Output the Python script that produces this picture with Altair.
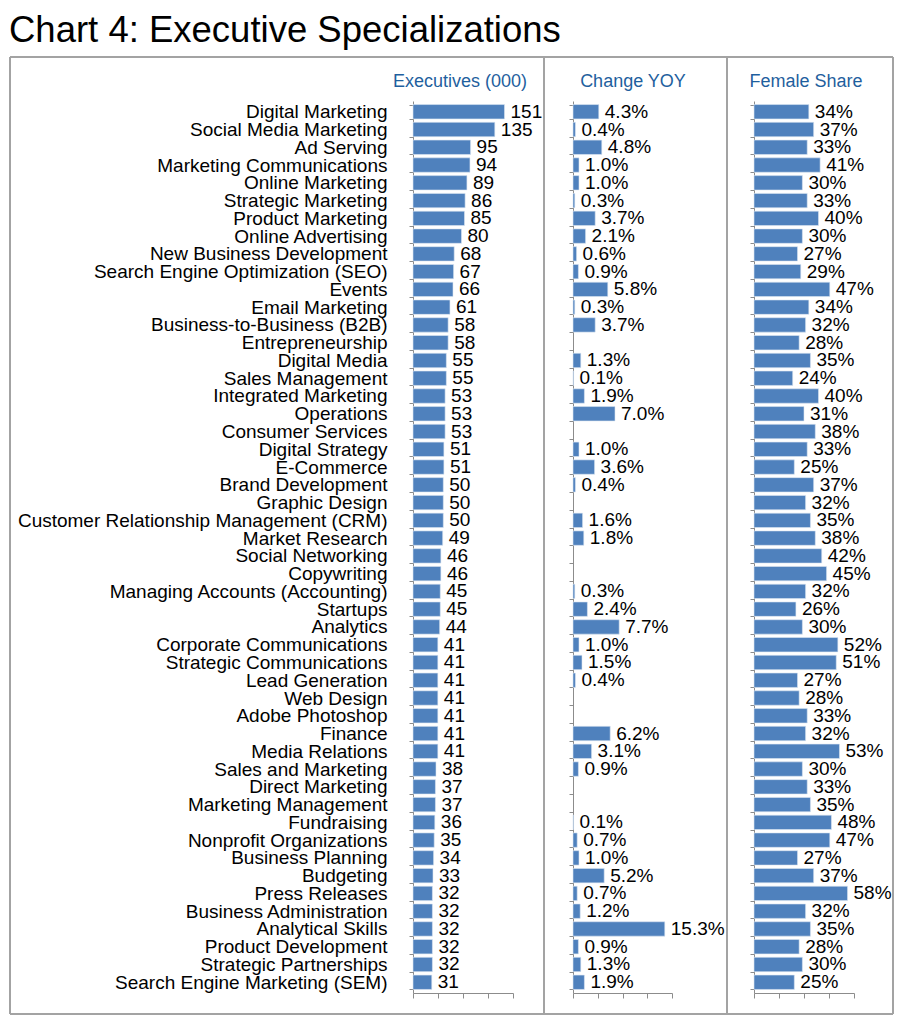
import altair as alt
import pandas as pd

names = [
    "Digital Marketing", "Social Media Marketing", "Ad Serving", "Marketing Communications",
    "Online Marketing", "Strategic Marketing", "Product Marketing", "Online Advertising",
    "New Business Development", "Search Engine Optimization (SEO)", "Events", "Email Marketing",
    "Business-to-Business (B2B)", "Entrepreneurship", "Digital Media", "Sales Management",
    "Integrated Marketing", "Operations", "Consumer Services", "Digital Strategy", "E-Commerce",
    "Brand Development", "Graphic Design", "Customer Relationship Management (CRM)",
    "Market Research", "Social Networking", "Copywriting", "Managing Accounts (Accounting)",
    "Startups", "Analytics", "Corporate Communications", "Strategic Communications",
    "Lead Generation", "Web Design", "Adobe Photoshop", "Finance", "Media Relations",
    "Sales and Marketing", "Direct Marketing", "Marketing Management", "Fundraising",
    "Nonprofit Organizations", "Business Planning", "Budgeting", "Press Releases",
    "Business Administration", "Analytical Skills", "Product Development",
    "Strategic Partnerships", "Search Engine Marketing (SEM)",
]
executives = [151, 135, 95, 94, 89, 86, 85, 80, 68, 67, 66, 61, 58, 58, 55, 55, 53, 53, 53, 51,
              51, 50, 50, 50, 49, 46, 46, 45, 45, 44, 41, 41, 41, 41, 41, 41, 41, 38, 37, 37,
              36, 35, 34, 33, 32, 32, 32, 32, 32, 31]
change_yoy = [4.3, 0.4, 4.8, 1.0, 1.0, 0.3, 3.7, 2.1, 0.6, 0.9, 5.8, 0.3, 3.7, None, 1.3, 0.1,
              1.9, 7.0, None, 1.0, 3.6, 0.4, None, 1.6, 1.8, None, None, 0.3, 2.4, 7.7, 1.0,
              1.5, 0.4, None, None, 6.2, 3.1, 0.9, None, None, 0.1, 0.7, 1.0, 5.2, 0.7, 1.2,
              15.3, 0.9, 1.3, 1.9]
female_share = [34, 37, 33, 41, 30, 33, 40, 30, 27, 29, 47, 34, 32, 28, 35, 24, 40, 31, 38, 33,
                25, 37, 32, 35, 38, 42, 45, 32, 26, 30, 52, 51, 27, 28, 33, 32, 53, 30, 33, 35,
                48, 47, 27, 37, 58, 32, 35, 28, 30, 25]
headers = ["Executives (000)", "Change YOY", "Female Share"]
title_text = "Chart 4: Executive Specializations"

df = pd.DataFrame({"name": names, "execs": executives, "chg": change_yoy, "fem": female_share})

BAR = "#4F81BD"
GREY = "#8c8c8c"
FRAME = "#a3a3a3"
HEAD = "#1f5f9e"
FONT = "Liberation Sans"
H = 892


def y_enc(show_labels):
    return alt.Y(
        "name:N",
        scale=alt.Scale(domain=names, paddingInner=0.19, paddingOuter=0.2),
        axis=alt.Axis(title=None, labels=show_labels, labelFontSize=19, labelFont=FONT,
                      labelColor="black", labelPadding=22, labelLimit=500, tickSize=4,
                      tickBand="extent", tickColor=GREY, domainColor=GREY, grid=False),
    )


def x_axis(vals):
    return alt.Axis(title=None, labels=False, values=vals, tickSize=5, tickColor=GREY,
                    domainColor=GREY, grid=False)


one = pd.DataFrame({"k": [0]})


def header(text, xc):
    return alt.Chart(one).mark_text(align="center", baseline="alphabetic", fontSize=18,
                                    font=FONT, color=HEAD).encode(
        x=alt.value(xc), y=alt.value(-14), text=alt.value(text))


def panel(field, domain, rng, ticks, label_expr, show_labels):
    base = alt.Chart(df)
    x = alt.X(f"{field}:Q", scale=alt.Scale(domain=domain, range=rng, nice=False),
              axis=x_axis(ticks))
    bars = base.mark_bar(color=BAR, stroke="#dbe5f1", strokeWidth=0.6).encode(
        x=x, y=y_enc(show_labels))
    text = base.transform_filter(f"isValid(datum.{field})").transform_calculate(
        lbl=label_expr).mark_text(align="left", baseline="middle", dx=6, fontSize=19,
                                  font=FONT, color="black").encode(
        x=x, y=y_enc(show_labels), text="lbl:N")
    return bars, text


def rule(**kw):
    return alt.Chart(one).mark_rule(color=FRAME, strokeWidth=2).encode(**kw)


frame = [
    rule(x=alt.value(-403), y=alt.value(-44), y2=alt.value(913)),
    rule(x=alt.value(131), y=alt.value(-44), y2=alt.value(913)),
    rule(x=alt.value(314), y=alt.value(-44), y2=alt.value(913)),
    rule(x=alt.value(480), y=alt.value(-44), y2=alt.value(913)),
    rule(x=alt.value(-403), x2=alt.value(480), y=alt.value(-44)),
    rule(x=alt.value(-403), x2=alt.value(480), y=alt.value(913)),
]

b1, t1 = panel("execs", [0, 165], [0, 100], [0, 41.25, 82.5, 123.75, 165],
               "format(datum.execs, 'd')", True)
b2, t2 = panel("chg", [0, 16.5], [0, 99], [0, 4.125, 8.25, 12.375, 16.5],
               "format(datum.chg, '.1f') + '%'", False)
b3, t3 = panel("fem", [0, 62], [0, 100], [0, 15.5, 31, 46.5, 62],
               "format(datum.fem, 'd') + '%'", False)

p1 = alt.layer(*frame, b1, t1, header(headers[0], 47)).properties(width=100, height=H)
p2 = alt.layer(b2, t2, header(headers[1], 60)).properties(width=121, height=H)
p3 = alt.layer(b3, t3, header(headers[2], 52)).properties(width=100, height=H)

chart = alt.hconcat(p1, p2, p3, spacing=60, bounds="flush").properties(
    title=alt.TitleParams(text=title_text, anchor="start", frame="bounds", fontSize=36.5,
                          font=FONT, fontWeight="normal", color="black", offset=7),
    padding={"left": 1, "top": 4, "right": 5, "bottom": 5},
).configure_view(stroke=None)

chart.save("out.html", embed_options={"renderer": "svg", "actions": False})
